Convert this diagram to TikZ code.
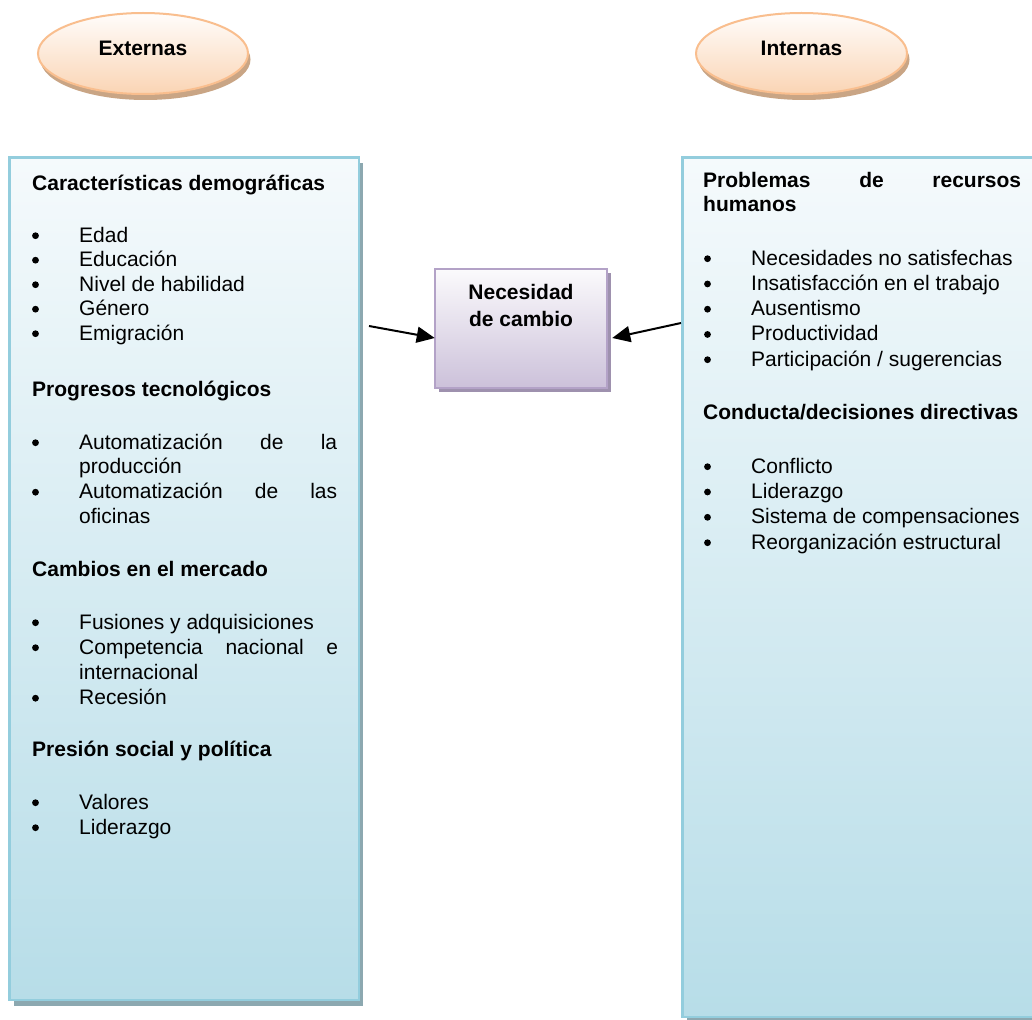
\documentclass[tikz,border=0pt]{standalone}
\usepackage{fontspec}
\setmainfont{Liberation Sans}
\usetikzlibrary{shadows,arrows.meta,shapes.geometric}
\definecolor{boxborder}{HTML}{93CDDD}
\definecolor{boxtop}{HTML}{F5FAFC}
\definecolor{boxbot}{HTML}{B7DDE8}
\definecolor{boxshadow}{HTML}{8CA8B0}
\definecolor{ovborder}{HTML}{F9BE8E}
\definecolor{ovtop}{HTML}{FFFDFB}
\definecolor{ovbot}{HTML}{FAD4B4}
\definecolor{ovshadow}{HTML}{C9A585}
\definecolor{puborder}{HTML}{B3A2C7}
\definecolor{putop}{HTML}{FBFAFC}
\definecolor{pubot}{HTML}{CCC1DA}
\definecolor{pushadow}{HTML}{9E91AE}
\newcommand\lhead[4]{\node[hdtext] (#1) at (#2,#3) {#4};}
\newcommand\litem[4]{\node[itemtext] (#1) at (#2,#3) {#4};
  \fill[bulletdot] ([xshift=-43.5pt,yshift=6.3pt]#1.base west) circle (3.4pt);}
\newcommand\lcont[4]{\node[itemtext] (#1) at (#2,#3) {#4};}
\begin{document}
\begin{tikzpicture}[x=1pt,y=-1pt,
  listbox/.style={rectangle,draw=boxborder,line width=2.5pt,top color=boxtop,bottom color=boxbot,inner sep=0pt,
    drop shadow={shadow xshift=4pt,shadow yshift=-6pt,fill=boxshadow,opacity=1}},
  needbox/.style={rectangle,draw=puborder,line width=2.5pt,top color=putop,bottom color=pubot,inner sep=0pt,
    minimum width=172pt,minimum height=119pt,
    drop shadow={shadow xshift=4pt,shadow yshift=-4pt,fill=pushadow,opacity=1}},
  oval/.style={ellipse,draw=ovborder,line width=2pt,top color=ovtop,bottom color=ovbot,inner sep=0pt,
    minimum height=81pt,
    drop shadow={shadow xshift=2.5pt,shadow yshift=-6pt,fill=ovshadow,opacity=1}},
  hdtext/.style={font=\fontsize{21}{25}\selectfont\bfseries,inner sep=0pt,anchor=base west},
  itemtext/.style={font=\fontsize{21}{25}\selectfont,inner sep=0pt,anchor=base west},
  ctext/.style={font=\fontsize{21}{25}\selectfont\bfseries,inner sep=0pt,anchor=base},
  bulletdot/.style={fill=black},
  arr/.style={line width=2pt,-{Triangle[length=18pt,width=16pt]}}
]
\clip (0,0) rectangle (1032,1019);
\fill[white] (0,0) rectangle (1032,1019);

% boxes
\node[listbox,minimum width=349.5pt,minimum height=842.5pt] (lbox) at (184.25,578.75) {};
\node[listbox,minimum width=362.5pt,minimum height=859.5pt] (rbox) at (863.75,587.25) {};
\node[needbox] (need) at (521,328.5) {};

% ovals
\node[oval,minimum width=210pt] (ext) at (143,53.5) {};
\node[oval,minimum width=211pt] (int) at (801.5,53.5) {};
\node[ctext] (extl) at (143,56) {Externas};
\node[ctext] (intl) at (801.5,56) {Internas};

% need text
\node[ctext] (needa) at (521,299) {Necesidad};
\node[ctext] (needb) at (521,326) {de cambio};

% left list
\lhead{h1}{32}{190}{Características demográficas}
\litem{a1}{79}{242}{Edad}
\litem{a2}{79}{266.5}{Educación}
\litem{a3}{79}{291}{Nivel de habilidad}
\litem{a4}{79}{315.5}{Género}
\litem{a5}{79}{340}{Emigración}
\lhead{h2}{32}{396}{Progresos tecnológicos}
\litem{b1}{79}{449}{\makebox[258pt][s]{Automatización de la}}
\lcont{b1c}{79}{473.5}{producción}
\litem{b2}{79}{498.5}{\makebox[258pt][s]{Automatización de las}}
\lcont{b2c}{79}{523}{oficinas}
\lhead{h3}{32}{576}{Cambios en el mercado}
\litem{c1}{79}{629}{Fusiones y adquisiciones}
\litem{c2}{79}{654}{\makebox[259pt][s]{Competencia nacional e}}
\lcont{c2c}{79}{679}{internacional}
\litem{c3}{79}{704.5}{Recesión}
\lhead{h4}{32}{756}{Presión social y política}
\litem{d1}{79}{809}{Valores}
\litem{d2}{79}{834}{Liderazgo}

% right list
\lhead{r1}{703}{187}{\makebox[318pt][s]{Problemas de recursos}}
\lhead{r1c}{703}{211}{humanos}
\litem{e1}{751}{265}{Necesidades no satisfechas}
\litem{e2}{751}{290.25}{Insatisfacción en el trabajo}
\litem{e3}{751}{315.5}{Ausentismo}
\litem{e4}{751}{340.75}{Productividad}
\litem{e5}{751}{366}{Participación / sugerencias}
\lhead{r2}{703}{419}{Conducta/decisiones directivas}
\litem{f1}{751}{473}{Conflicto}
\litem{f2}{751}{498.3}{Liderazgo}
\litem{f3}{751}{523.6}{Sistema de compensaciones}
\litem{f4}{751}{549}{Reorganización estructural}

% arrows
\coordinate (la) at (369,326);
\coordinate (ra) at (681,323);
\draw[arr] (la) -- ([xshift=1pt,yshift=-9.5pt]need.west);
\draw[arr] (ra) -- ([xshift=4pt,yshift=-9.5pt]need.east);
\end{tikzpicture}
\end{document}
